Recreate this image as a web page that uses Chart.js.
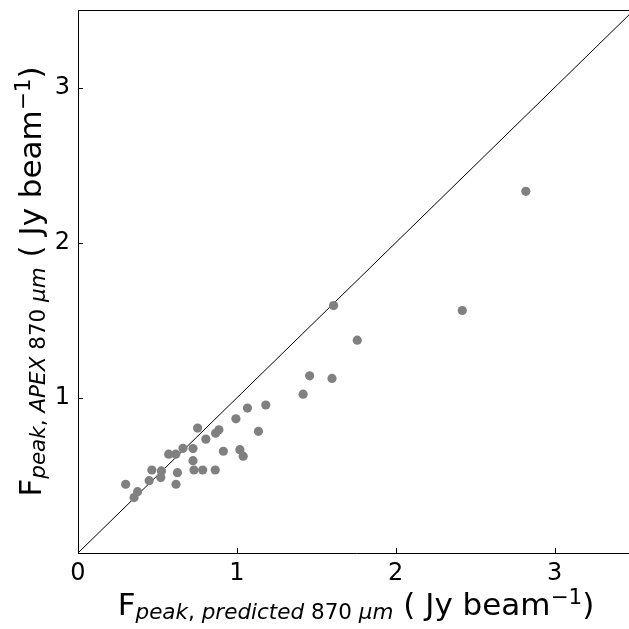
<!DOCTYPE html>
<html>
<head>
<meta charset="utf-8">
<script src="https://cdn.jsdelivr.net/npm/chart.js@4.4.1/dist/chart.umd.min.js"></script>
<style>
  html, body { margin: 0; padding: 0; overflow: hidden; background: #fff; }
  canvas { display: block; }
</style>
</head>
<body>
<canvas id="fluxChart" width="640" height="629"></canvas>
<script>
// Predicted vs. measured APEX 870 um peak fluxes (Jy/beam)
const predicted = [0.30, 0.375, 0.353, 0.448, 0.465, 0.525, 0.521, 0.571, 0.615, 0.661,
                   0.626, 0.617, 0.724, 0.724, 0.730, 0.785, 0.753, 0.805, 0.864, 0.866,
                   0.887, 0.915, 0.994, 1.019, 1.040, 1.067, 1.136, 1.182, 1.417, 1.458,
                   1.599, 1.609, 1.758, 2.419, 2.819];
const apex = [0.443, 0.395, 0.357, 0.466, 0.535, 0.529, 0.486, 0.637, 0.637, 0.675,
              0.518, 0.443, 0.673, 0.595, 0.535, 0.535, 0.805, 0.734, 0.535, 0.772,
              0.794, 0.656, 0.865, 0.666, 0.624, 0.934, 0.784, 0.954, 1.024, 1.142,
              1.125, 1.595, 1.372, 1.563, 2.331];
const oneToOne = [0, 3.5];
const xTicks = [0, 1, 2, 3];
const yTicks = [1, 2, 3];
const axisMax = 3.5;

const FONT = "'DejaVu Sans', sans-serif";
const mainFont = '31px ' + FONT;
const subFont = '21.5px ' + FONT;
const subItalic = 'italic 21.5px ' + FONT;

const xTitle = [
  { t: 'F', f: mainFont, dy: 0 },
  { t: 'peak', f: subItalic, dy: 4 },
  { t: ', ', f: subFont, dy: 4 },
  { t: 'predicted', f: subItalic, dy: 4 },
  { t: ' 870 ', f: subFont, dy: 4 },
  { t: 'μm', f: subItalic, dy: 4 },
  { t: ' ( Jy beam', f: mainFont, dy: 0 },
  { t: '−1', f: subFont, dy: -11 },
  { t: ')', f: mainFont, dy: 0 }
];
const yTitle = [
  { t: 'F', f: mainFont, dy: 0 },
  { t: 'peak', f: subItalic, dy: 4 },
  { t: ', ', f: subFont, dy: 4 },
  { t: 'APEX', f: subItalic, dy: 4 },
  { t: ' 870 ', f: subFont, dy: 4 },
  { t: 'μm', f: subItalic, dy: 4 },
  { t: ' ( Jy beam', f: mainFont, dy: 0 },
  { t: '−1', f: subFont, dy: -11 },
  { t: ')', f: mainFont, dy: 0 }
];

function drawRich(ctx, parts) {
  let total = 0;
  parts.forEach(p => { ctx.font = p.f; p.w = ctx.measureText(p.t).width; total += p.w; });
  let x = -total / 2;
  ctx.textBaseline = 'alphabetic';
  ctx.textAlign = 'left';
  ctx.fillStyle = '#000';
  parts.forEach(p => { ctx.font = p.f; ctx.fillText(p.t, x, p.dy); x += p.w; });
}

// frame, inward ticks and the two axis titles
const framePlugin = {
  id: 'frame',
  afterDraw(chart) {
    const { ctx, chartArea: a, scales } = chart;
    ctx.save();
    ctx.strokeStyle = '#000';
    ctx.lineWidth = 1;
    ctx.beginPath();
    ctx.moveTo(a.left, a.top + 0.5);
    ctx.lineTo(a.right, a.top + 0.5);
    ctx.moveTo(a.right - 0.5, a.top);
    ctx.lineTo(a.right - 0.5, a.bottom);
    xTicks.forEach(v => {
      const px = Math.round(scales.x.getPixelForValue(v)) + 0.5;
      ctx.moveTo(px, a.bottom);
      ctx.lineTo(px, a.bottom - 5);
    });
    yTicks.forEach(v => {
      const py = Math.round(scales.y.getPixelForValue(v)) + 0.5;
      ctx.moveTo(a.left, py);
      ctx.lineTo(a.left + 5, py);
    });
    ctx.stroke();

    ctx.save();
    ctx.translate((a.left + a.right) / 2, 615);
    drawRich(ctx, xTitle);
    ctx.restore();

    ctx.save();
    ctx.translate(41, (a.top + a.bottom) / 2);
    ctx.rotate(-Math.PI / 2);
    drawRich(ctx, yTitle);
    ctx.restore();
    ctx.restore();
  }
};

const ctx = document.getElementById('fluxChart').getContext('2d');
new Chart(ctx, {
  type: 'scatter',
  data: {
    datasets: [
      {
        data: predicted.map((x, i) => ({ x: x, y: apex[i] })),
        backgroundColor: '#808080',
        borderWidth: 0,
        pointRadius: 4.6,
        pointHoverRadius: 4.6
      },
      {
        type: 'line',
        data: oneToOne.map(v => ({ x: v, y: v })),
        borderColor: '#000',
        borderWidth: 1,
        pointRadius: 0,
        fill: false
      }
    ]
  },
  options: {
    responsive: false,
    animation: false,
    events: [],
    layout: { padding: { left: 0, top: 10, right: 6, bottom: 0 } },
    plugins: { legend: { display: false }, tooltip: { enabled: false } },
    scales: {
      x: {
        type: 'linear',
        min: 0,
        max: axisMax,
        afterFit: s => { s.height = 76; s.paddingLeft = 0; s.paddingRight = 0; },
        afterBuildTicks: s => { s.ticks = xTicks.map(v => ({ value: v })); },
        grid: { drawOnChartArea: false, drawTicks: false },
        border: { display: true, color: '#000', width: 1 },
        ticks: { color: '#000', padding: 6, maxRotation: 0, font: { family: FONT, size: 24 } }
      },
      y: {
        type: 'linear',
        min: 0,
        max: axisMax,
        afterFit: s => { s.width = 78; s.paddingTop = 0; s.paddingBottom = 0; },
        afterBuildTicks: s => { s.ticks = yTicks.map(v => ({ value: v })); },
        grid: { drawOnChartArea: false, drawTicks: false },
        border: { display: true, color: '#000', width: 1 },
        ticks: { color: '#000', padding: 8, font: { family: FONT, size: 24 } }
      }
    }
  },
  plugins: [framePlugin]
});
</script>
</body>
</html>
